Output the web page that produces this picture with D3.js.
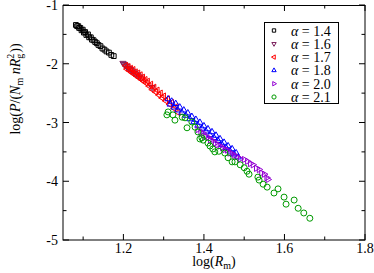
<!DOCTYPE html>
<html><head><meta charset="utf-8">
<script src="https://cdn.jsdelivr.net/npm/d3@7"></script>
<style>
html,body{margin:0;padding:0;background:#fff;}
svg{display:block;font-family:"Liberation Serif","Times New Roman",serif;}
</style></head>
<body><svg id="c" width="374" height="273"></svg>
<script>
// ---- data ----
const alphaLabels = ["1.4","1.6","1.7","1.8","2.0","2.1"];
const seriesColors = ["#000000","#7a1f5c","#ff0000","#0000ff","#9400d3","#009a00"];
const seriesSymbols = ["square","down","left","up","right","circle"];
const xTicksMajor = [1.2,1.4,1.6,1.8];
const xTicksMinor = [1.1,1.3,1.5,1.7];
const yTicksMajor = [-5,-4,-3,-2,-1];
const yTicksMinor = [-4.5,-3.5,-2.5,-1.5];

const alpha14 = [[1.082,-1.34],[1.085,-1.36],[1.088,-1.36],[1.090,-1.39],[1.093,-1.39],[1.096,-1.43],[1.099,-1.42],[1.102,-1.47],[1.105,-1.46],[1.108,-1.51],[1.112,-1.50],[1.115,-1.55],[1.119,-1.55],[1.122,-1.59],[1.126,-1.60],[1.130,-1.63],[1.134,-1.65],[1.138,-1.68],[1.143,-1.70],[1.148,-1.74],[1.153,-1.76],[1.158,-1.79],[1.164,-1.81],[1.170,-1.85],[1.176,-1.87]];
const alpha16 = [[1.199,-1.99],[1.202,-2.01],[1.205,-2.03],[1.208,-2.04],[1.211,-2.07],[1.214,-2.08],[1.218,-2.10],[1.222,-2.12],[1.226,-2.15],[1.230,-2.17],[1.235,-2.19],[1.240,-2.22],[1.245,-2.24],[1.271,-2.40]];
const alpha17 = [[1.206,-2.03],[1.209,-2.09],[1.212,-2.05],[1.215,-2.12],[1.218,-2.08],[1.221,-2.15],[1.224,-2.10],[1.227,-2.18],[1.230,-2.14],[1.233,-2.21],[1.236,-2.16],[1.239,-2.24],[1.242,-2.19],[1.245,-2.27],[1.248,-2.23],[1.251,-2.30],[1.254,-2.27],[1.257,-2.33],[1.260,-2.30],[1.264,-2.38],[1.268,-2.35],[1.272,-2.44],[1.276,-2.40],[1.280,-2.48],[1.284,-2.45],[1.288,-2.53],[1.292,-2.50],[1.296,-2.58],[1.300,-2.55],[1.305,-2.63],[1.310,-2.60],[1.315,-2.69],[1.320,-2.66],[1.326,-2.76],[1.331,-2.73],[1.336,-2.83]];
const alpha18 = [[1.311,-2.60],[1.316,-2.69],[1.320,-2.64],[1.326,-2.74],[1.330,-2.68],[1.335,-2.79],[1.340,-2.74],[1.345,-2.83],[1.350,-2.79],[1.355,-2.88],[1.360,-2.84],[1.365,-2.94],[1.370,-2.90],[1.375,-2.99],[1.380,-2.95],[1.385,-3.05],[1.390,-3.00],[1.395,-3.10],[1.400,-3.06],[1.405,-3.15],[1.410,-3.11],[1.415,-3.21],[1.420,-3.16],[1.425,-3.26],[1.430,-3.22],[1.435,-3.31],[1.440,-3.28],[1.445,-3.38],[1.450,-3.34],[1.455,-3.43],[1.460,-3.40],[1.465,-3.49],[1.470,-3.45],[1.475,-3.54],[1.480,-3.52],[1.485,-3.59]];
const alpha20 = [[1.385,-3.12],[1.392,-3.17],[1.398,-3.18],[1.404,-3.24],[1.410,-3.25],[1.416,-3.30],[1.422,-3.31],[1.428,-3.35],[1.434,-3.38],[1.440,-3.40],[1.446,-3.43],[1.452,-3.46],[1.458,-3.47],[1.464,-3.52],[1.470,-3.53],[1.476,-3.56],[1.482,-3.58],[1.490,-3.62],[1.500,-3.63],[1.508,-3.66],[1.515,-3.70],[1.522,-3.72],[1.530,-3.78],[1.537,-3.80],[1.543,-3.86],[1.550,-3.88],[1.556,-3.94],[1.559,-3.97]];
const alpha21 = [[1.308,-2.87],[1.311,-2.82],[1.323,-2.87],[1.328,-2.96],[1.346,-2.91],[1.353,-2.92],[1.358,-3.09],[1.370,-2.99],[1.378,-3.08],[1.385,-3.16],[1.390,-3.28],[1.395,-3.26],[1.398,-3.30],[1.410,-3.35],[1.415,-3.40],[1.422,-3.45],[1.427,-3.50],[1.437,-3.49],[1.452,-3.52],[1.460,-3.60],[1.470,-3.67],[1.477,-3.67],[1.490,-3.72],[1.500,-3.77],[1.507,-3.83],[1.512,-3.88],[1.534,-3.93],[1.537,-3.98],[1.547,-4.05],[1.557,-4.10],[1.574,-4.20],[1.584,-4.13],[1.599,-4.27],[1.604,-4.39],[1.624,-4.32],[1.634,-4.46],[1.648,-4.54],[1.663,-4.63]];
const seriesData = [alpha14, alpha16, alpha17, alpha18, alpha20, alpha21];

// ---- layout ----
const L = 63, R = 365, T = 5, B = 240;
const svg = d3.select("#c");
const x = d3.scaleLinear().domain([1.05, 1.8]).range([L, R]);
const y = d3.scaleLinear().domain([-5, -1]).range([B, T]);

function markerPath(type, r) {
  const p = d3.path();
  const h = r * 0.866;
  if (type === "square") { p.rect(-r, -r, 2*r, 2*r); }
  else if (type === "circle") { p.arc(0, 0, r, 0, 2*Math.PI); p.closePath(); }
  else {
    let pts;
    if (type === "up") pts = [[0,-r],[h,r/2],[-h,r/2]];
    else if (type === "down") pts = [[0,r],[h,-r/2],[-h,-r/2]];
    else if (type === "left") pts = [[-r,0],[r/2,-h],[r/2,h]];
    else pts = [[r,0],[-r/2,-h],[-r/2,h]];
    p.moveTo(pts[0][0],pts[0][1]); p.lineTo(pts[1][0],pts[1][1]); p.lineTo(pts[2][0],pts[2][1]); p.closePath();
  }
  return p.toString();
}
const markerSize = {square:2.4, circle:3, up:3.6, down:3.6, left:3.6, right:3.6};

// data points
seriesData.forEach((data, i) => {
  const g = svg.append("g");
  g.selectAll("path").data(data).enter().append("path")
    .attr("transform", d => `translate(${x(d[0])},${y(d[1])})`)
    .attr("d", markerPath(seriesSymbols[i], markerSize[seriesSymbols[i]]))
    .attr("fill", "none").attr("stroke", seriesColors[i]).attr("stroke-width", 1);
});

// frame & ticks
const ax = svg.append("g").attr("stroke", "#000").attr("stroke-width", 1);
ax.append("rect").attr("x", L).attr("y", T + 0.5).attr("width", R - L).attr("height", B - T - 0.5).attr("fill", "none");
xTicksMajor.forEach(v => {
  ax.append("line").attr("x1", x(v)).attr("x2", x(v)).attr("y1", B).attr("y2", B - 6);
  ax.append("line").attr("x1", x(v)).attr("x2", x(v)).attr("y1", T).attr("y2", T + 6);
});
xTicksMinor.forEach(v => {
  ax.append("line").attr("x1", x(v)).attr("x2", x(v)).attr("y1", B).attr("y2", B - 3.5);
  ax.append("line").attr("x1", x(v)).attr("x2", x(v)).attr("y1", T).attr("y2", T + 3.5);
});
yTicksMajor.forEach(v => {
  ax.append("line").attr("x1", L).attr("x2", L + 6).attr("y1", y(v)).attr("y2", y(v));
  ax.append("line").attr("x1", R).attr("x2", R - 6).attr("y1", y(v)).attr("y2", y(v));
});
yTicksMinor.forEach(v => {
  ax.append("line").attr("x1", L).attr("x2", L + 3.5).attr("y1", y(v)).attr("y2", y(v));
  ax.append("line").attr("x1", R).attr("x2", R - 3.5).attr("y1", y(v)).attr("y2", y(v));
});

// tick labels
svg.append("g").selectAll("text").data(xTicksMajor).enter().append("text")
  .attr("x", d => x(d)).attr("y", 253).attr("text-anchor", "middle")
  .attr("font-size", 14).text(d => d.toFixed(1));
svg.append("g").selectAll("text").data(yTicksMajor).enter().append("text")
  .attr("x", 58).attr("y", d => y(d) + 5).attr("text-anchor", "end")
  .attr("font-size", 14).text(d => String(d));

// axis titles
const xt = svg.append("text").attr("x", 214).attr("y", 266).attr("text-anchor", "middle").attr("font-size", 14);
xt.append("tspan").text("log(");
xt.append("tspan").attr("font-style", "italic").text("R");
xt.append("tspan").attr("font-size", 10).attr("dy", 3).text("m");
xt.append("tspan").attr("dy", -3).text(")");

const yt = svg.append("text").attr("transform", "translate(20,89) rotate(-90)").attr("text-anchor", "middle").attr("font-size", 14);
yt.append("tspan").text("log(");
yt.append("tspan").attr("font-style", "italic").text("P");
yt.append("tspan").text("/(");
yt.append("tspan").attr("font-style", "italic").text("N");
yt.append("tspan").attr("font-size", 10).attr("dy", 3).text("m");
yt.append("tspan").attr("dy", -3).attr("font-style", "italic").text(" nR");
yt.append("tspan").attr("font-size", 10).attr("dy", 3).text("g");
yt.append("tspan").attr("font-size", 10).attr("dy", -9).attr("dx", -5).text("2");
yt.append("tspan").attr("dy", 6).attr("dx", 1).text("))");

// legend
const lg = svg.append("g");
lg.append("rect").attr("x", 264.5).attr("y", 22.5).attr("width", 74).attr("height", 81)
  .attr("fill", "#fff").attr("stroke", "#000").attr("stroke-width", 1);
alphaLabels.forEach((lab, i) => {
  const cy = 30.5 + i * 13.3;
  lg.append("path").attr("transform", `translate(274,${cy})`)
    .attr("d", markerPath(seriesSymbols[i], markerSize[seriesSymbols[i]] * 0.7))
    .attr("fill", "none").attr("stroke", seriesColors[i]).attr("stroke-width", 1);
  lg.append("text").attr("x", 291).attr("y", cy + 5).attr("font-size", 14)
    .html(`<tspan font-style="italic">α</tspan> = ${lab}`)
    .attr("xml:space", "preserve");
});
</script></body></html>
